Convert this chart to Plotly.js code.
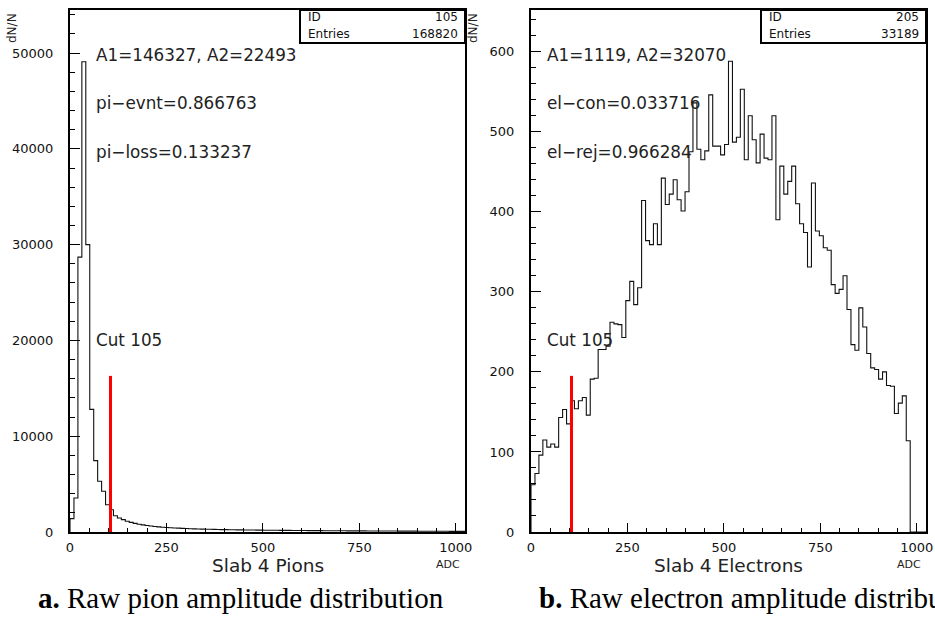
<!DOCTYPE html>
<html>
<head>
<meta charset="utf-8">
<script src="https://cdn.plot.ly/plotly-3.0.1.min.js"></script>
<style>
  html, body { margin: 0; padding: 0; background: #fff; }
  #chart { width: 935px; height: 628px; }
</style>
</head>
<body>
<div id="chart"></div>
<script>
// ---------------- DATA ----------------
const binWidth = 10.24;            // ADC units per bin (100 bins over 0..1024)
const adcRange = [0, 1024];
const cutValue = 105;

// Slab 4 pions: counts per bin
const pionCounts = [
  1400, 3550, 28700, 49100, 30000, 12800, 7450, 5300, 4250, 2850,
  2330, 1700, 1460, 1290, 1130, 1000, 900, 810, 740, 680,
  620, 570, 530, 500, 470, 440, 420, 400, 380, 360,
  345, 330, 315, 300, 290, 280, 270, 260, 250, 245,
  240, 230, 225, 220, 215, 210, 205, 200, 195, 190,
  185, 180, 175, 170, 168, 165, 160, 158, 155, 150,
  148, 145, 142, 140, 138, 135, 132, 130, 128, 125,
  122, 120, 118, 116, 114, 112, 110, 108, 106, 104,
  102, 100, 98, 96, 94, 92, 90, 88, 86, 84,
  82, 80, 78, 76, 74, 72, 70, 68, 66, 64
];

// Slab 4 electrons: counts per bin
const electronCounts = [
  59, 73, 96, 115, 106, 110, 106, 143, 153, 135,
  164, 154, 164, 168, 146, 191, 192, 228, 228, 232,
  262, 260, 259, 243, 289, 313, 284, 305, 414, 364,
  359, 385, 359, 442, 409, 422, 440, 415, 401, 425,
  475, 536, 478, 465, 476, 546, 482, 482, 471, 484,
  588, 487, 493, 553, 465, 520, 490, 461, 497, 467,
  465, 520, 390, 457, 422, 438, 457, 410, 385, 374,
  331, 436, 376, 370, 355, 352, 309, 298, 303, 320,
  278, 234, 227, 280, 256, 223, 205, 203, 191, 200,
  183, 182, 148, 161, 170, 114, 0, 0, 0, 0
];

const pionYRange = [0, 54500];
const electronYRange = [0, 652];
const pionCutHeight = [16300];
const electronCutHeight = [195];

const pionTexts = ["A1=146327, A2=22493", "pi\u2212evnt=0.866763", "pi\u2212loss=0.133237"];
const electronTexts = ["A1=1119, A2=32070", "el\u2212con=0.033716", "el\u2212rej=0.966284"];
const cutLabel = "Cut 105";
const pionStats = { id: "105", entries: "168820" };
const electronStats = { id: "205", entries: "33189" };
const xTitles = ["Slab 4 Pions", "Slab 4 Electrons"];
const unitLabel = "ADC";
const yLabel = "dN/N";
const captions = ["<b>a.</b> Raw pion amplitude distribution", "<b>b.</b> Raw electron amplitude distribution"];

// ---------------- HELPERS ----------------
const W = 935, H = 628;
const px = x => x / W;
const py = y => 1 - y / H;

function stepTrace(counts, xa, ya) {
  const xs = [0];
  const ys = [0];
  for (let i = 0; i < counts.length; i++) {
    xs.push(i * binWidth);
    ys.push(counts[i]);
  }
  xs.push(counts.length * binWidth);
  ys.push(counts[counts.length - 1]);
  return {
    type: 'scatter', mode: 'lines', x: xs, y: ys, xaxis: xa, yaxis: ya,
    line: { shape: 'hv', color: '#111', width: 1.1 }, hoverinfo: 'skip', showlegend: false
  };
}
function cutTrace(h, xa, ya) {
  return {
    type: 'scatter', mode: 'lines', x: [cutValue, cutValue], y: [0, h[0]], xaxis: xa, yaxis: ya,
    line: { color: '#ff0000', width: 3 }, hoverinfo: 'skip', showlegend: false
  };
}

const tickFont = { family: 'DejaVu Sans', size: 13, color: '#111' };
function xAxis(domain, anchor) {
  return {
    domain, anchor, range: adcRange, showgrid: false, zeroline: false,
    showline: true, mirror: true, linecolor: '#000', linewidth: 2,
    ticks: 'inside', ticklen: 9, tickwidth: 1, tickcolor: '#000',
    tick0: 0, dtick: 250, tickformat: 'd', tickfont: tickFont, ticklabelstandoff: 2,
    minor: { dtick: 50, ticks: 'inside', ticklen: 4, tickwidth: 1, tickcolor: '#000' },
    fixedrange: true
  };
}
function yAxis(domain, anchor, range, dtick, mdtick) {
  return {
    domain, anchor, range, showgrid: false, zeroline: false,
    showline: true, mirror: true, linecolor: '#000', linewidth: 2,
    ticks: 'inside', ticklen: 10, tickwidth: 1, tickcolor: '#000',
    tick0: 0, dtick, tickformat: 'd', tickfont: tickFont, ticklabelstandoff: 12,
    minor: { dtick: mdtick, ticks: 'inside', ticklen: 5, tickwidth: 1, tickcolor: '#000' },
    fixedrange: true
  };
}

const textFont = { family: 'DejaVu Sans', size: 16.8, color: '#222' };
function ann(text, x, y, opts) {
  return Object.assign({
    text, xref: 'paper', yref: 'paper', x: px(x), y: py(y),
    xanchor: 'left', yanchor: 'middle', showarrow: false, font: textFont
  }, opts || {});
}

const panels = [
  { left: 70, right: 465, textX: 94, texts: pionTexts, stats: pionStats, title: xTitles[0], caption: captions[0], capX: 36 },
  { left: 531, right: 926, textX: 545, texts: electronTexts, stats: electronStats, title: xTitles[1], caption: captions[1], capX: 537 }
];

const annotations = [];
const shapes = [];
panels.forEach(p => {
  const tx = p.textX;
  annotations.push(ann(p.texts[0], tx, 55));
  annotations.push(ann(p.texts[1], tx, 103));
  annotations.push(ann(p.texts[2], tx, 152));
  annotations.push(ann(cutLabel, tx, 340));
  annotations.push(ann(p.title, (p.left + p.right) / 2, 565, { xanchor: 'center', font: { family: 'DejaVu Sans', size: 18.5, color: '#222' } }));
  annotations.push(ann(unitLabel, p.right - 3, 564, { xanchor: 'right', font: { family: 'DejaVu Sans', size: 11, color: '#222' } }));
  annotations.push(ann(yLabel, p.left - 58, 28, { xanchor: 'center', textangle: -90, font: { family: 'DejaVu Sans', size: 12, color: '#222' } }));
  annotations.push(ann(p.caption, p.capX, 598, { font: { family: 'Liberation Serif', size: 29, color: '#000' } }));
  // stats box
  const bx0 = p.right - 165;
  shapes.push({ type: 'rect', xref: 'paper', yref: 'paper', x0: px(bx0), x1: px(p.right), y0: py(43), y1: py(10), line: { color: '#000', width: 2 }, fillcolor: '#fff', layer: 'above' });
  const sf = { family: 'DejaVu Sans', size: 12, color: '#111' };
  annotations.push(ann('ID', bx0 + 6, 17, { font: sf }));
  annotations.push(ann(p.stats.id, p.right - 5, 17, { xanchor: 'right', font: sf }));
  annotations.push(ann('Entries', bx0 + 6, 34, { font: sf }));
  annotations.push(ann(p.stats.entries, p.right - 5, 34, { xanchor: 'right', font: sf }));
});

const yTop = py(10), yBot = py(532);
const layout = {
  width: W, height: H, margin: { l: 0, r: 0, t: 0, b: 0 },
  paper_bgcolor: '#fff', plot_bgcolor: '#fff', showlegend: false,
  xaxis: xAxis([px(70), px(465)], 'y'),
  yaxis: yAxis([yBot, yTop], 'x', pionYRange, 10000, 2000),
  xaxis2: xAxis([px(531), px(926)], 'y2'),
  yaxis2: yAxis([yBot, yTop], 'x2', electronYRange, 100, 20),
  annotations, shapes
};

const data = [
  stepTrace(pionCounts, 'x', 'y'),
  cutTrace(pionCutHeight, 'x', 'y'),
  stepTrace(electronCounts, 'x2', 'y2'),
  cutTrace(electronCutHeight, 'x2', 'y2')
];

Plotly.newPlot('chart', data, layout, { staticPlot: true, displayModeBar: false });
</script>
</body>
</html>
